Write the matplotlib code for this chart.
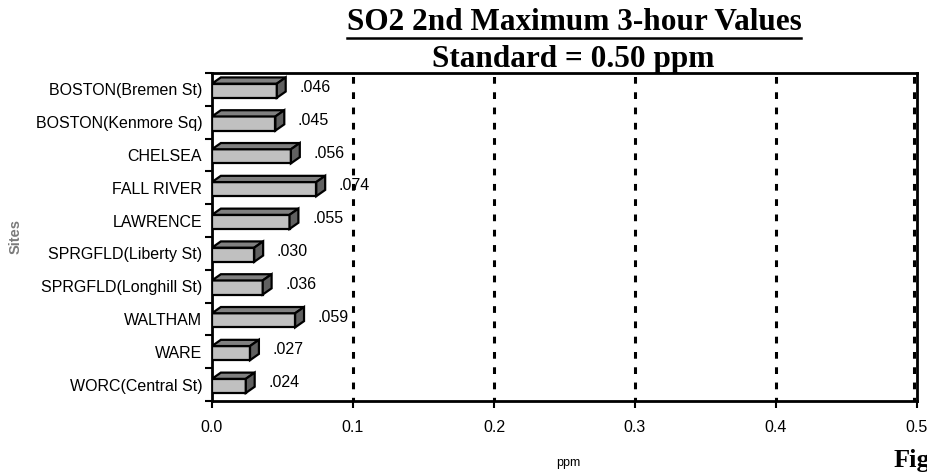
import matplotlib
matplotlib.use("Agg")
import matplotlib.pyplot as plt
from matplotlib.patches import Polygon
from matplotlib.lines import Line2D

# SO2 2nd maximum 3-hour values by monitoring site (ppm)
SITES = [
    "BOSTON(Bremen St)",
    "BOSTON(Kenmore Sq)",
    "CHELSEA",
    "FALL RIVER",
    "LAWRENCE",
    "SPRGFLD(Liberty St)",
    "SPRGFLD(Longhill St)",
    "WALTHAM",
    "WARE",
    "WORC(Central St)",
]
VALUES = [0.046, 0.045, 0.056, 0.074, 0.055, 0.030, 0.036, 0.059, 0.027, 0.024]
LABELS = [".046", ".045", ".056", ".074", ".055", ".030", ".036", ".059", ".027", ".024"]
XTICKS = [0.0, 0.1, 0.2, 0.3, 0.4, 0.5]

FRONT = "#c0c0c0"
TOP = "#808080"
SIDE = "#606060"
SANS = "Liberation Sans"
SERIF = "Liberation Serif"

fig = plt.figure(figsize=(9.28, 4.75), dpi=100)
ax = fig.add_axes([0.2284, 0.1558, 0.7597, 0.6905])

n = len(SITES)
ypos = list(range(n))[::-1]   # first site at the top
h = 0.43                        # front face height
dx = 0.0063                     # 3D depth (x, data units)
dy = 0.19                       # 3D depth (y, category units)
yoff = -0.04                    # front face sits a bit below row centre

for y, v, lab in zip(ypos, VALUES, LABELS):
    y0 = y + yoff - h / 2
    y1 = y + yoff + h / 2
    ax.barh(y + yoff, v, height=h, color=FRONT, edgecolor="black",
            linewidth=1.6, zorder=3)
    top = Polygon([(0, y1), (v, y1), (v + dx, y1 + dy), (dx, y1 + dy)],
                  closed=True, facecolor=TOP, edgecolor="black",
                  linewidth=1.6, zorder=3)
    side = Polygon([(v, y0), (v + dx, y0 + dy), (v + dx, y1 + dy), (v, y1)],
                   closed=True, facecolor=SIDE, edgecolor="black",
                   linewidth=1.6, zorder=3)
    ax.add_patch(top)
    ax.add_patch(side)
    ax.text(v + 0.016, y + 0.06, lab, ha="left", va="center",
            fontsize=11.5, family=SANS, zorder=4)

ax.set_xlim(0, 0.5)
ax.set_ylim(-0.5, n - 0.5)

# dashed vertical gridlines (the 0.5 one sits just inside the frame)
for xv in XTICKS[1:]:
    xx = xv - 0.002 if xv == XTICKS[-1] else xv
    ax.axvline(xx, color="black", linewidth=2.2, linestyle=(1, (2.2, 2.8)),
               zorder=2)

ax.set_xticks(XTICKS)
ax.set_xticklabels([f"{t:.1f}" for t in XTICKS], fontsize=11.5, family=SANS)
ax.set_yticks(ypos)
ax.set_yticklabels(SITES, fontsize=11.5, family=SANS)
ax.tick_params(axis="y", length=0, pad=7)
ax.tick_params(axis="x", length=5, width=1.5, direction="out", pad=9)

# y ticks at the category boundaries
ax.set_yticks([i - 0.5 for i in range(n + 1)], minor=True)
ax.tick_params(axis="y", which="minor", length=5, width=1.5, direction="out")

for s in ax.spines.values():
    s.set_linewidth(2)

fig.text(16 / 928, 1 - 236 / 475, "Sites", rotation=90, ha="center",
         va="center", fontsize=10.5, color="#7a7a7a", fontweight="bold",
         family=SANS)
fig.text(568 / 928, 1 - 463 / 475, "ppm", ha="center", va="center",
         fontsize=9, family=SANS)

t1 = fig.text(574 / 928, 1 - 23 / 475, "SO2 2nd Maximum 3-hour Values",
              ha="center", va="center", fontsize=22.5, fontweight="bold",
              family=SERIF)
fig.text(573 / 928, 1 - 60 / 475, "Standard = 0.50 ppm", ha="center",
         va="center", fontsize=22.5, fontweight="bold", family=SERIF)
fig.text(894 / 928, 1 - 467 / 475, "Figure", ha="left", va="baseline",
         fontsize=19, fontweight="bold", family=SERIF)

# underline the first title line
fig.canvas.draw()
bb = t1.get_window_extent().transformed(fig.transFigure.inverted())
uy = 1 - 38 / 475
fig.add_artist(Line2D([bb.x0, bb.x1], [uy, uy], transform=fig.transFigure,
                      color="black", linewidth=1.8))

fig.savefig("out.png", dpi=100)
